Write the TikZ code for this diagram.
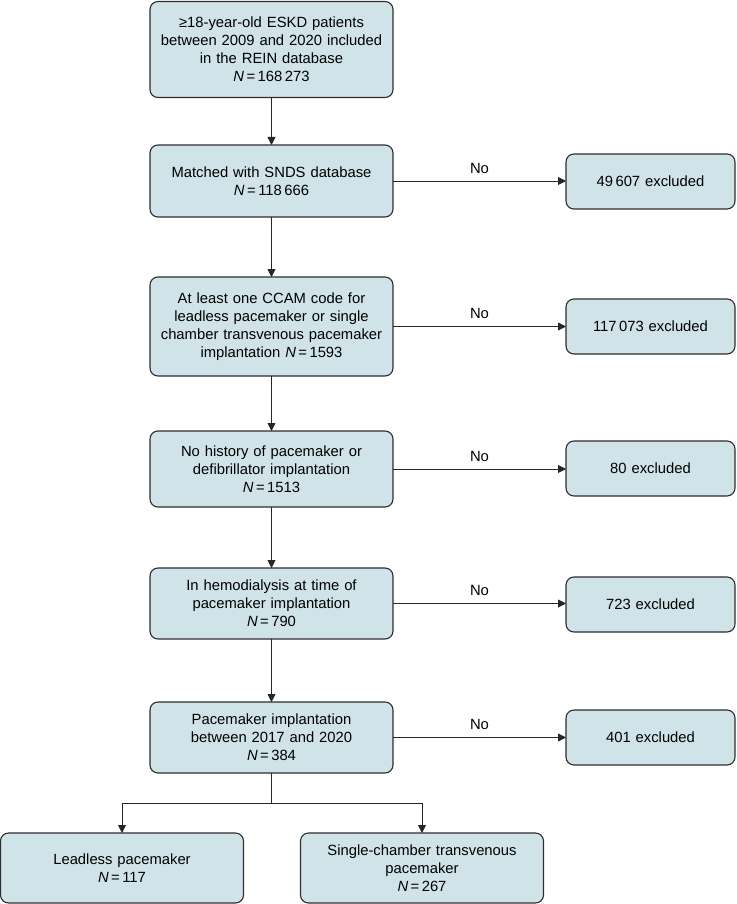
\documentclass[tikz,border=0pt]{standalone}
\usepackage{fontspec}
\setmainfont{Liberation Sans}
\usetikzlibrary{arrows.meta}
\definecolor{boxfill}{RGB}{208,227,233}
\definecolor{boxline}{RGB}{45,45,45}
\begin{document}
\begin{tikzpicture}[x=1pt,y=-1pt,
 box/.style={draw=boxline,line width=1.1pt,fill=boxfill,rounded corners=8pt,inner sep=0pt,outer sep=0pt,align=center,font=\fontsize{14.8}{18}\selectfont},
 mainbox/.style={box,minimum width=243pt,text width=238pt},
 exbox/.style={box,minimum width=169pt,minimum height=55pt,text width=165pt},
 conn/.style={line width=0.9pt,draw=black!85},
 arr/.style={conn,-{Triangle[length=8pt,width=8pt]}},
 nolab/.style={font=\fontsize{14.8}{18}\selectfont,inner sep=0pt}]
\useasboundingbox (0,0) rectangle (736,904);
\node[mainbox,minimum height=96pt] (b1) at (271.5,49.5) {≥18-year-old ESKD patients\\between 2009 and 2020 included\\in the REIN database\\\textit{N}\,=\,168\,273};
\node[mainbox,minimum height=72pt] (b2) at (271.5,181) {Matched with SNDS database\\\textit{N}\,=\,118\,666};
\node[mainbox,minimum height=99pt] (b3) at (271.5,326.5) {At least one CCAM code for\\leadless pacemaker or single\\chamber transvenous pacemaker\\implantation \textit{N}\,=\,1593};
\node[mainbox,minimum height=76pt] (b4) at (271.5,469) {No history of pacemaker or\\defibrillator implantation\\\textit{N}\,=\,1513};
\node[mainbox,minimum height=71pt] (b5) at (271.5,603.5) {In hemodialysis at time of\\pacemaker implantation\\\textit{N}\,=\,790};
\node[mainbox,minimum height=71pt] (b6) at (271.5,737.5) {Pacemaker implantation\\between 2017 and 2020\\\textit{N}\,=\,384};
\node[mainbox,minimum height=70pt] (bl) at (122,868) {Leadless pacemaker\\\textit{N}\,=\,117};
\node[mainbox,minimum height=70pt] (br) at (422,868) {Single-chamber transvenous\\pacemaker\\\textit{N}\,=\,267};
\node[exbox] (e1) at (650.5,181.5) {49\,607 excluded};
\node[exbox] (e2) at (650.5,326.5) {117\,073 excluded};
\node[exbox] (e3) at (650.5,468.5) {80 excluded};
\node[exbox] (e4) at (650.5,604.5) {723 excluded};
\node[exbox] (e5) at (650.5,737.5) {401 excluded};
\draw[arr] (b1.south) -- (b2.north);
\draw[arr] (b2.south) -- (b3.north);
\draw[arr] (b3.south) -- (b4.north);
\draw[arr] (b4.south) -- (b5.north);
\draw[arr] (b5.south) -- (b6.north);
\foreach \a/\b in {b2/e1,b3/e2,b4/e3,b5/e4,b6/e5}{
  \draw[arr] (\a.east) -- node[nolab,above=7pt] (no\b) {No} (\a.east -| \b.west);
}
\coordinate (split) at (271.5,803);
\draw[conn] (b6.south) -- (split);
\draw[arr] (split) -| (bl.north);
\draw[arr] (split) -| (br.north);
\end{tikzpicture}
\end{document}
